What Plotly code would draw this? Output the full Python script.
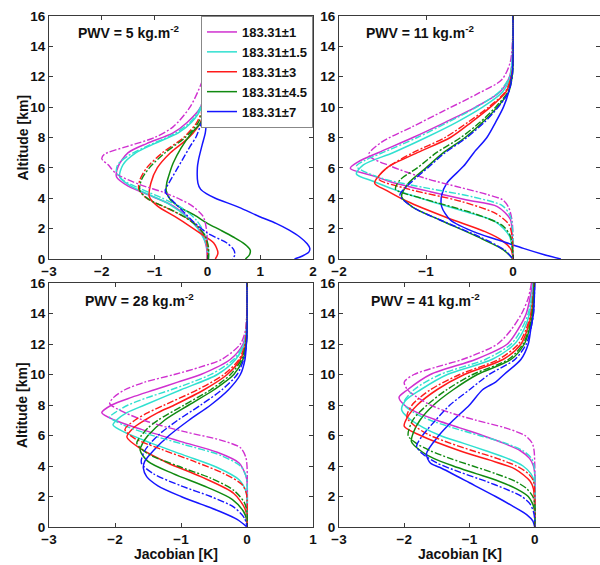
import plotly.graph_objects as go

CHANNELS = ["183.31±1", "183.31±1.5", "183.31±3", "183.31±4.5", "183.31±7"]
COLORS = ["#d030d0", "#30e0d0", "#ff1a1a", "#108a10", "#1515ff"]
PWV = [5, 11, 28, 41]
X_RANGES = [[-3, 2], [-2, 1], [-3, 1], [-3, 1]]
X_TICKS = [[-3, -2, -1, 0, 1, 2], [-2, -1, 0, 1], [-3, -2, -1, 0, 1], [-3, -2, -1, 0, 1]]
Y_TICKS = [0, 2, 4, 6, 8, 10, 12, 14, 16]

# ---------------- PWV = 5 ----------------
P1_SOLID_ALT = [
    [16, 12, 10, 9, 8.3, 7.6, 7.0, 6.1, 5.4, 4.8, 4.1, 3.5, 2.6, 1.7, 0.8, 0],
    [16, 12, 10, 9, 8.3, 7.6, 7.0, 6.2, 5.4, 4.8, 4.2, 3.6, 2.8, 2.0, 1.2, 0.5, 0],
    [16, 12, 10, 9, 8, 7, 6, 5.0, 4.1, 3.5, 2.8, 2.2, 1.7, 1.05, 0.4, 0],
    [16, 12, 10, 9, 8.3, 7.3, 6.3, 5.5, 5.0, 4.5, 3.9, 3.4, 2.9, 2.35, 1.9, 1.45, 1.0, 0.6, 0.3, 0],
    [16, 12, 10, 9, 8.3, 7.5, 6.5, 6.0, 5.0, 4.6, 4.3, 4.0, 3.4, 2.8, 2.35, 1.9, 1.45, 1.0, 0.7, 0.45, 0.2, 0],
]
P1_SOLID_VAL = [
    [0, -0.02, -0.13, -0.38, -0.65, -1.15, -1.5, -1.69, -1.72, -1.5, -1.03, -0.65, -0.33, -0.11, -0.02, 0],
    [0, -0.02, -0.11, -0.3, -0.55, -1.0, -1.35, -1.6, -1.66, -1.45, -1.08, -0.72, -0.4, -0.18, -0.05, 0.02, 0.02],
    [0, -0.01, -0.05, -0.13, -0.35, -0.7, -0.95, -1.07, -1.1, -0.95, -0.62, -0.35, -0.14, 0.12, 0.2, 0.15],
    [0, -0.01, -0.04, -0.12, -0.3, -0.5, -0.65, -0.73, -0.77, -0.78, -0.7, -0.52, -0.25, 0.0, 0.25, 0.49, 0.7, 0.81, 0.8, 0.72],
    [0, 0, -0.01, -0.02, -0.04, -0.1, -0.17, -0.19, -0.18, -0.13, -0.02, 0.15, 0.6, 0.98, 1.3, 1.55, 1.75, 1.89, 1.94, 1.92, 1.8, 1.65],
]
P1_DASH_ALT = [
    [16, 12.5, 11.6, 10, 8.7, 8.0, 7.4, 6.9, 6.6, 6.2, 5.6, 4.9, 4.4, 3.9, 3.45, 2.8, 2.0, 1.0, 0],
    [16, 12, 10, 9, 8.2, 7.5, 6.8, 6.2, 5.7, 5.2, 4.6, 4.0, 3.4, 2.6, 1.8, 1.0, 0],
    [16, 12, 10, 9, 8, 7, 6, 5.2, 4.6, 4.0, 3.4, 2.8, 2.2, 1.5, 0.8, 0],
    [16, 12, 10, 9, 8, 7, 6, 5.2, 4.5, 3.9, 3.3, 2.7, 2.1, 1.5, 0.8, 0],
    [16, 12, 10, 9, 8.7, 8, 7.4, 6.5, 5.9, 5, 4.5, 4.2, 3.7, 3, 2.4, 1.7, 1.05, 0.6, 0.3, 0],
]
P1_DASH_VAL = [
    [0, -0.03, -0.11, -0.33, -0.65, -1.0, -1.53, -1.95, -2.0, -1.88, -1.72, -1.28, -0.84, -0.5, -0.27, -0.08, -0.02, 0, 0],
    [0, -0.03, -0.13, -0.33, -0.65, -1.1, -1.5, -1.7, -1.72, -1.6, -1.25, -0.85, -0.5, -0.22, -0.07, -0.01, 0],
    [0, -0.02, -0.08, -0.2, -0.45, -0.85, -1.15, -1.28, -1.3, -1.15, -0.8, -0.45, -0.2, -0.05, 0, 0],
    [0, -0.02, -0.07, -0.17, -0.42, -0.8, -1.1, -1.25, -1.28, -1.1, -0.72, -0.4, -0.17, -0.04, 0.02, 0.02],
    [0, -0.01, -0.05, -0.11, -0.14, -0.22, -0.33, -0.48, -0.58, -0.73, -0.8, -0.76, -0.62, -0.42, -0.25, 0.0, 0.37, 0.5, 0.52, 0.48],
]

# ---------------- PWV = 11 ----------------
P2_SOLID_ALT = [
    [16, 13, 12, 11, 10, 9, 8, 7, 6.4, 5.97, 5.5, 5.09, 4.43, 3.88, 3.45, 2.6, 1.5, 0],
    [16, 13, 12, 11, 10, 9, 8, 7, 6.2, 5.6, 5.1, 4.6, 3.8, 3.2, 2.45, 1.5, 0],
    [16, 13, 12, 11, 10, 9, 8, 7, 6, 5.0, 4.5, 3.8, 2.7, 1.8, 1.2, 0.6, 0],
    [16, 13, 12, 11, 10, 9, 8, 7, 6, 5, 4.1, 3.4, 2.57, 1.47, 0.6, 0],
    [16, 13, 12, 11, 10, 9, 8, 7, 6.1, 5.0, 4.2, 3.45, 2.57, 1.7, 1.14, 0.7, 0.3, 0],
]
P2_SOLID_VAL = [
    [0, -0.01, -0.04, -0.15, -0.43, -0.78, -1.15, -1.55, -1.78, -1.87, -1.62, -1.41, -0.95, -0.53, -0.18, -0.03, -0.01, 0],
    [0, -0.01, -0.03, -0.12, -0.35, -0.65, -1.0, -1.38, -1.72, -1.8, -1.6, -1.38, -0.95, -0.6, -0.2, -0.04, 0],
    [0, 0, -0.02, -0.08, -0.26, -0.48, -0.72, -1.1, -1.45, -1.59, -1.45, -1.22, -0.75, -0.32, -0.12, -0.02, 0],
    [0, 0, -0.01, -0.05, -0.18, -0.35, -0.55, -0.8, -1.0, -1.2, -1.28, -1.15, -0.84, -0.41, -0.11, 0],
    [0, 0, -0.02, -0.05, -0.11, -0.2, -0.3, -0.45, -0.57, -0.76, -0.82, -0.82, -0.72, -0.41, -0.11, 0.12, 0.35, 0.55],
]
P2_DASH_ALT = [
    [16, 13, 11.8, 10.9, 9.8, 8.7, 7.7, 6.85, 6.1, 5.3, 4.7, 4.25, 3.9, 3.4, 2.5, 1.0, 0],
    [16, 13, 12, 11, 10, 9, 8, 7, 6.5, 6.1, 5.3, 4.65, 4.1, 3.5, 2.8, 1.5, 0],
    [16, 13, 12, 11, 10, 9, 8, 7, 6, 5.3, 4.6, 3.8, 3.0, 2.3, 1.5, 0],
    [16, 13, 12, 11, 10, 9, 8, 7, 6, 5.2, 4.6, 4.0, 3.0, 2.2, 1.5, 0],
    [16, 13, 12, 11, 10, 9, 8, 7, 6, 5, 4.2, 3.4, 2.6, 1.5, 0.6, 0],
]
P2_DASH_VAL = [
    [0, -0.03, -0.13, -0.4, -0.78, -1.16, -1.51, -1.66, -1.4, -1.0, -0.6, -0.3, -0.12, -0.05, -0.01, 0, 0],
    [0, -0.01, -0.04, -0.16, -0.42, -0.75, -1.1, -1.5, -1.7, -1.8, -1.5, -0.97, -0.47, -0.12, -0.03, 0, 0],
    [0, 0, -0.02, -0.09, -0.28, -0.52, -0.78, -1.15, -1.45, -1.55, -1.2, -0.6, -0.2, -0.05, -0.01, 0],
    [0, 0, -0.01, -0.06, -0.2, -0.38, -0.6, -0.88, -1.1, -1.3, -1.35, -1.05, -0.45, -0.12, -0.03, 0],
    [0, 0, -0.01, -0.05, -0.17, -0.33, -0.53, -0.78, -0.98, -1.18, -1.3, -1.15, -0.85, -0.4, -0.1, 0],
]

# ---------------- PWV = 28 ----------------
P3_SOLID_ALT = [
    [16, 13, 12, 11, 10, 9.5, 9, 8.5, 8, 7.5, 7.0, 6.4, 5.6, 4.9, 4.2, 3.4, 3, 0],
    [16, 13, 12, 11, 10, 9, 8, 7.5, 7, 6.7, 6.2, 5.5, 4.7, 3.9, 3.1, 2.4, 2, 0],
    [16, 13, 12, 11, 10, 9, 8, 7.5, 7, 6.5, 5.9, 5.1, 4.2, 3.3, 2.2, 1.2, 0.6, 0],
    [16, 13, 12, 11, 10, 9, 8, 7, 6, 5.5, 5.05, 4.3, 3.5, 2.6, 1.8, 1.0, 0.4, 0],
    [16, 13, 12, 11, 10, 9, 8, 7, 6, 5, 4.3, 3.85, 3.3, 2.7, 2.0, 1.5, 1.0, 0.5, 0],
]
P3_SOLID_VAL = [
    [0, -0.01, -0.06, -0.25, -0.7, -1.05, -1.4, -1.75, -2.05, -2.2, -2.0, -1.6, -1.0, -0.45, -0.12, -0.02, 0, 0],
    [0, -0.01, -0.04, -0.17, -0.45, -1.0, -1.55, -1.82, -1.98, -2.03, -1.85, -1.45, -0.95, -0.45, -0.12, -0.02, 0, 0],
    [0, 0, -0.02, -0.1, -0.3, -0.65, -1.1, -1.35, -1.55, -1.72, -1.82, -1.6, -1.2, -0.7, -0.2, -0.03, 0, 0],
    [0, 0, -0.01, -0.06, -0.2, -0.5, -0.88, -1.25, -1.5, -1.58, -1.62, -1.5, -1.12, -0.6, -0.22, -0.05, 0, 0],
    [0, 0, -0.01, -0.03, -0.1, -0.28, -0.55, -0.88, -1.18, -1.42, -1.55, -1.57, -1.52, -1.35, -1.0, -0.7, -0.4, -0.15, 0],
]
P3_DASH_ALT = [
    [16, 13, 12, 11, 10.5, 10, 9.5, 9, 8.5, 8.1, 7.5, 6.9, 6.25, 5.7, 5.2, 4.6, 4, 0],
    [16, 13, 12, 11, 10, 9, 8.5, 8, 7.5, 7.2, 6.7, 6.1, 5.4, 4.7, 4.0, 3.4, 3, 0],
    [16, 13, 12, 11, 10, 9, 8, 7.5, 7, 6.4, 5.8, 5.1, 4.3, 3.5, 2.8, 2.2, 0],
    [16, 13, 12, 11, 10, 9, 8, 7, 6.5, 6, 5.5, 4.8, 4.0, 3.2, 2.4, 1.6, 1.0, 0],
    [16, 13, 12, 11, 10, 9, 8, 7, 6, 5, 4.2, 3.5, 2.7, 2.0, 1.3, 0.6, 0],
]
P3_DASH_VAL = [
    [0, -0.02, -0.1, -0.38, -0.7, -1.1, -1.55, -1.85, -2.02, -2.08, -1.85, -1.5, -0.95, -0.4, -0.1, -0.02, 0, 0],
    [0, -0.01, -0.05, -0.2, -0.55, -1.15, -1.5, -1.8, -2.0, -2.08, -1.88, -1.5, -0.95, -0.4, -0.1, -0.02, 0, 0],
    [0, -0.01, -0.03, -0.12, -0.35, -0.75, -1.25, -1.5, -1.7, -1.85, -1.7, -1.3, -0.8, -0.35, -0.08, -0.01, 0],
    [0, 0, -0.02, -0.08, -0.25, -0.55, -0.95, -1.35, -1.5, -1.6, -1.67, -1.5, -1.05, -0.55, -0.2, -0.04, 0, 0],
    [0, 0, -0.01, -0.05, -0.15, -0.38, -0.7, -1.05, -1.35, -1.55, -1.6, -1.42, -1.0, -0.55, -0.2, -0.04, 0],
]

# ---------------- PWV = 41 ----------------
P4_SOLID_ALT = [
    [16, 14, 13, 12, 11, 10, 9, 8.5, 8.0, 7.5, 7.0, 6.5, 6.0, 5.5, 5.0, 4.5, 4, 3.5, 0],
    [16, 14, 13, 12, 11, 10, 9, 8.3, 7.7, 7.2, 6.5, 6.0, 5.5, 5.0, 4.5, 4.0, 3.5, 3.0, 0],
    [16, 14, 13, 12, 11, 10, 9, 8, 7.2, 6.6, 6.0, 5.0, 4.4, 3.8, 3.0, 2.5, 0],
    [16, 14, 13, 12, 11, 10, 9, 8, 7, 6.2, 5.6, 5.0, 4.5, 4.0, 3.5, 3.0, 2.5, 2.0, 1.5, 1.0, 0],
    [16, 14, 13, 12, 11, 10, 9.5, 9, 8, 7, 6, 4.8, 4.2, 3.9, 2.9, 2.0, 1.4, 0.8, 0.4, 0],
]
P4_SOLID_VAL = [
    [-0.03, -0.13, -0.25, -0.42, -0.9, -1.6, -1.95, -2.08, -2.0, -1.8, -1.5, -1.15, -0.8, -0.48, -0.22, -0.08, -0.02, 0, 0],
    [-0.02, -0.08, -0.16, -0.31, -0.65, -1.34, -1.75, -1.98, -2.04, -1.95, -1.7, -1.45, -1.1, -0.75, -0.42, -0.18, -0.06, -0.01, 0],
    [-0.01, -0.05, -0.11, -0.21, -0.48, -1.08, -1.5, -1.8, -1.95, -2.0, -1.75, -1.15, -0.7, -0.3, -0.07, -0.02, 0],
    [-0.01, -0.03, -0.08, -0.16, -0.36, -0.88, -1.25, -1.55, -1.76, -1.86, -1.89, -1.75, -1.55, -1.25, -0.9, -0.55, -0.28, -0.1, -0.03, 0, 0],
    [0, -0.02, -0.06, -0.1, -0.21, -0.47, -0.6, -0.8, -1.0, -1.25, -1.47, -1.66, -1.6, -1.45, -1.0, -0.6, -0.35, -0.12, -0.03, 0],
]
P4_DASH_ALT = [
    [16, 15, 14, 13, 12, 11, 10.5, 10, 9.5, 9.0, 8.5, 8.0, 7.5, 7.0, 6.5, 6.0, 5.5, 5.0, 0],
    [16, 14, 13, 12, 11, 10, 9, 8.1, 7.5, 7.0, 6.5, 6.0, 5.5, 5.0, 4.5, 4.0, 0],
    [16, 14, 13, 12, 11, 10, 9, 8, 7.2, 6.5, 6.0, 5.5, 5.0, 4.5, 4.0, 3.5, 3.0, 0],
    [16, 14, 13, 12, 11, 10, 9, 8, 7, 6.0, 5.5, 5.0, 4.5, 4.0, 3.5, 3.0, 2.5, 2.0, 1.5, 0],
    [16, 14, 13, 12, 11, 10, 9, 8, 7, 6, 5.3, 4.8, 4.2, 3.6, 3.0, 2.5, 2.0, 1.5, 1.0, 0.5, 0],
]
P4_DASH_VAL = [
    [-0.05, -0.1, -0.2, -0.35, -0.57, -1.1, -1.5, -1.85, -2.0, -1.95, -1.8, -1.6, -1.3, -0.9, -0.45, -0.15, -0.04, -0.01, 0],
    [-0.02, -0.1, -0.2, -0.36, -0.75, -1.45, -1.85, -2.01, -1.85, -1.6, -1.25, -0.85, -0.45, -0.18, -0.05, -0.01, 0],
    [-0.01, -0.06, -0.13, -0.25, -0.55, -1.15, -1.6, -1.88, -1.96, -1.8, -1.6, -1.3, -0.95, -0.58, -0.28, -0.1, -0.02, 0],
    [-0.01, -0.04, -0.09, -0.18, -0.4, -0.95, -1.35, -1.65, -1.87, -1.94, -1.82, -1.6, -1.3, -0.95, -0.6, -0.3, -0.12, -0.03, 0, 0],
    [0, -0.02, -0.06, -0.13, -0.3, -0.7, -1.0, -1.3, -1.52, -1.72, -1.81, -1.72, -1.5, -1.15, -0.75, -0.45, -0.2, -0.07, -0.02, 0, 0],
]

PANELS = [
    (P1_SOLID_ALT, P1_SOLID_VAL, P1_DASH_ALT, P1_DASH_VAL),
    (P2_SOLID_ALT, P2_SOLID_VAL, P2_DASH_ALT, P2_DASH_VAL),
    (P3_SOLID_ALT, P3_SOLID_VAL, P3_DASH_ALT, P3_DASH_VAL),
    (P4_SOLID_ALT, P4_SOLID_VAL, P4_DASH_ALT, P4_DASH_VAL),
]

W, H = 600, 565
FONT = "Liberation Sans"
AXC = "#3a3a3a"

# pixel boxes of the four panels (left, right, top, bottom)
BOXES = [(49, 313, 16, 259), (339, 600, 16, 259), (49, 313, 283, 527), (339, 600, 283, 527)]

fig = go.Figure()
for p, (sa, sv, da, dv) in enumerate(PANELS):
    xa = "x" if p == 0 else f"x{p+1}"
    ya = "y" if p == 0 else f"y{p+1}"
    for i in range(5):
        fig.add_trace(go.Scatter(
            x=sv[i], y=sa[i], mode="lines", name=CHANNELS[i],
            line=dict(color=COLORS[i], width=1.5, shape="spline", smoothing=0.8),
            showlegend=(p == 0), xaxis=xa, yaxis=ya))
    for i in range(5):
        fig.add_trace(go.Scatter(
            x=dv[i], y=da[i], mode="lines", name=CHANNELS[i] + " (b)",
            line=dict(color=COLORS[i], width=1.4, shape="spline", smoothing=0.8,
                      dash="7px,2px,2px,2px"),
            showlegend=False, xaxis=xa, yaxis=ya))

tickfont = dict(family=FONT, size=13.5, color="#111111", weight="bold")
common = dict(showline=True, linecolor=AXC, linewidth=1, mirror="allticks", ticks="inside",
              ticklen=4, tickcolor=AXC, showgrid=False, zeroline=False, tickfont=tickfont,
              automargin=False)

layout = dict(template="none", width=W, height=H, margin=dict(l=0, r=0, t=0, b=0),
              paper_bgcolor="white", plot_bgcolor="white", showlegend=True)
for p, (l, r, t, b) in enumerate(BOXES):
    xk = "xaxis" if p == 0 else f"xaxis{p+1}"
    yk = "yaxis" if p == 0 else f"yaxis{p+1}"
    ya = "y" if p == 0 else f"y{p+1}"
    xa = "x" if p == 0 else f"x{p+1}"
    layout[xk] = dict(common, domain=[l / W, min(r / W, 1.0)], range=X_RANGES[p],
                      tickvals=X_TICKS[p], anchor=ya)
    layout[yk] = dict(common, domain=[1 - b / H, 1 - t / H], range=[0, 16],
                      tickvals=Y_TICKS, anchor=xa)
fig.update_layout(**layout)

fig.update_layout(legend=dict(
    x=313 / W, xanchor="right", y=1 - 16 / H, yanchor="top",
    bgcolor="white", bordercolor="#888888", borderwidth=1,
    font=dict(family=FONT, size=13, color="#111111", weight="bold"),
    itemwidth=30, tracegroupgap=0))

annots = []
PWV_POS = [(76, 32), (364, 32), (83, 300), (369, 300)]
for p, (px, py) in enumerate(PWV_POS):
    annots.append(dict(text=f"PWV = {PWV[p]} kg.m<sup>-2</sup>", x=px / W, y=1 - py / H,
                       xref="paper", yref="paper", xanchor="left", yanchor="middle",
                       showarrow=False, font=dict(family=FONT, size=14, color="#111111", weight="bold")))
for cy in [(16 + 259) / 2, (283 + 527) / 2]:
    annots.append(dict(text="Altitude [km]", x=22 / W, y=1 - cy / H, xref="paper", yref="paper",
                       xanchor="center", yanchor="middle", textangle=-90, showarrow=False,
                       font=dict(family=FONT, size=14, color="#111111", weight="bold")))
for cx in [176, 460]:
    annots.append(dict(text="Jacobian [K]", x=cx / W, y=1 - 554 / H, xref="paper", yref="paper",
                       xanchor="center", yanchor="middle", showarrow=False,
                       font=dict(family=FONT, size=14, color="#111111", weight="bold")))
fig.update_layout(annotations=annots)

fig.write_html("out.html", config={"displayModeBar": False},
               post_script="document.body.style.margin='0px';document.body.style.overflow='hidden';")
